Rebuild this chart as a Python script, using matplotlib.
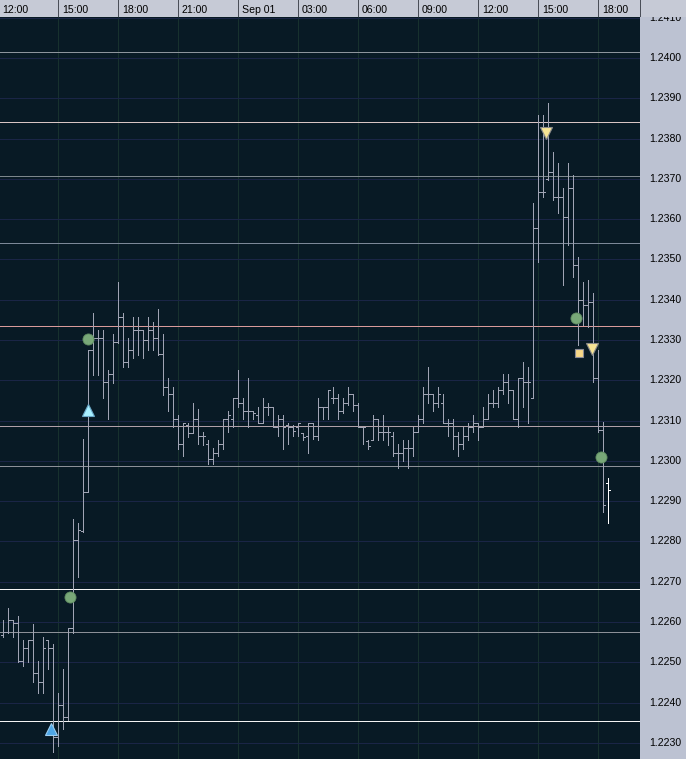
import matplotlib
matplotlib.use("Agg")
import matplotlib.pyplot as plt
from matplotlib.transforms import blended_transform_factory
import numpy as np

# ---------------- data (15-minute OHLC bars, hours after Aug 31 12:00) ----------------
bar_minutes = 15
opens = [
    1.22568, 1.22575, 1.22605, 1.22598, 1.22503, 1.22536, 1.22556, 1.22474, 1.22451, 1.22556,
    1.22536, 1.22315, 1.22394, 1.22365, 1.22585, 1.22804, 1.22826, 1.22923, 1.23275, 1.23305,
    1.23305, 1.23195, 1.23215, 1.23295, 1.23358, 1.23245, 1.23275, 1.23325, 1.23325, 1.23300,
    1.23325, 1.23305, 1.23265, 1.23183, 1.23165, 1.23105, 1.23043, 1.23088, 1.23070, 1.23105,
    1.23063, 1.23043, 1.23005, 1.23020, 1.23043, 1.23105, 1.23105, 1.23155, 1.23145, 1.23125,
    1.23125, 1.23115, 1.23095, 1.23133, 1.23133, 1.23085, 1.23105, 1.23088, 1.23083, 1.23085,
    1.23070, 1.23063, 1.23093, 1.23063, 1.23133, 1.23133, 1.23155, 1.23155, 1.23125, 1.23145,
    1.23165, 1.23138, 1.23085, 1.23050, 1.23053, 1.23105, 1.23073, 1.23073, 1.23063, 1.23020,
    1.23020, 1.23033, 1.23033, 1.23073, 1.23105, 1.23165, 1.23165, 1.23145, 1.23145, 1.23095,
    1.23095, 1.23063, 1.23043, 1.23063, 1.23085, 1.23095, 1.23085, 1.23105, 1.23145, 1.23145,
    1.23175, 1.23195, 1.23175, 1.23105, 1.23205, 1.23195, 1.23155, 1.23578, 1.23667, 1.23700,
    1.23717, 1.23655, 1.23655, 1.23605, 1.23677, 1.23486, 1.23399, 1.23387, 1.23394, 1.23206,
    1.23077, 1.22945,
]
highs = [
    1.22605, 1.22635, 1.22605, 1.22615, 1.22556, 1.22556, 1.22595, 1.22503, 1.22563, 1.22556,
    1.22546, 1.22424, 1.22484, 1.22585, 1.22856, 1.22846, 1.23054, 1.23275, 1.23368, 1.23325,
    1.23325, 1.23225, 1.23315, 1.23445, 1.23368, 1.23305, 1.23358, 1.23358, 1.23325, 1.23358,
    1.23345, 1.23378, 1.23315, 1.23205, 1.23183, 1.23115, 1.23095, 1.23095, 1.23143, 1.23130,
    1.23073, 1.23053, 1.23033, 1.23053, 1.23105, 1.23125, 1.23155, 1.23225, 1.23155, 1.23205,
    1.23125, 1.23133, 1.23155, 1.23145, 1.23133, 1.23113, 1.23115, 1.23095, 1.23088, 1.23095,
    1.23070, 1.23095, 1.23095, 1.23155, 1.23133, 1.23175, 1.23183, 1.23165, 1.23155, 1.23183,
    1.23165, 1.23145, 1.23085, 1.23053, 1.23115, 1.23105, 1.23115, 1.23085, 1.23073, 1.23043,
    1.23053, 1.23053, 1.23085, 1.23115, 1.23183, 1.23233, 1.23165, 1.23183, 1.23165, 1.23105,
    1.23105, 1.23073, 1.23085, 1.23095, 1.23115, 1.23095, 1.23133, 1.23165, 1.23175, 1.23183,
    1.23215, 1.23215, 1.23175, 1.23205, 1.23245, 1.23233, 1.23640, 1.23858, 1.23858, 1.23888,
    1.23767, 1.23739, 1.23677, 1.23739, 1.23709, 1.23506, 1.23444, 1.23449, 1.23417, 1.23275,
    1.23097, 1.22958,
]
lows = [
    1.22563, 1.22573, 1.22563, 1.22501, 1.22491, 1.22501, 1.22451, 1.22424, 1.22424, 1.22484,
    1.22278, 1.22293, 1.22335, 1.22357, 1.22573, 1.22712, 1.22824, 1.22923, 1.23213, 1.23213,
    1.23155, 1.23105, 1.23193, 1.23293, 1.23233, 1.23233, 1.23255, 1.23263, 1.23255, 1.23275,
    1.23275, 1.23263, 1.23163, 1.23125, 1.23083, 1.23030, 1.23013, 1.23060, 1.23070, 1.23043,
    1.23040, 1.22993, 1.22993, 1.23013, 1.23030, 1.23073, 1.23085, 1.23133, 1.23105, 1.23085,
    1.23105, 1.23093, 1.23095, 1.23115, 1.23083, 1.23063, 1.23030, 1.23043, 1.23063, 1.23063,
    1.23053, 1.23020, 1.23055, 1.23053, 1.23105, 1.23105, 1.23145, 1.23105, 1.23118, 1.23138,
    1.23125, 1.23085, 1.23043, 1.23030, 1.23053, 1.23053, 1.23053, 1.23040, 1.23013, 1.22983,
    1.23000, 1.22983, 1.23013, 1.23073, 1.23095, 1.23145, 1.23125, 1.23133, 1.23095, 1.23063,
    1.23030, 1.23013, 1.23030, 1.23053, 1.23073, 1.23053, 1.23085, 1.23105, 1.23133, 1.23133,
    1.23165, 1.23145, 1.23105, 1.23085, 1.23133, 1.23093, 1.23155, 1.23494, 1.23655, 1.23697,
    1.23647, 1.23615, 1.23436, 1.23536, 1.23456, 1.23288, 1.23337, 1.23332, 1.23196, 1.23072,
    1.22873, 1.22846,
]
closes = [
    1.22575, 1.22605, 1.22598, 1.22503, 1.22536, 1.22556, 1.22474, 1.22451, 1.22536, 1.22536,
    1.22315, 1.22394, 1.22365, 1.22585, 1.22804, 1.22829, 1.22923, 1.23275, 1.23305, 1.23305,
    1.23195, 1.23215, 1.23295, 1.23358, 1.23245, 1.23275, 1.23325, 1.23325, 1.23300, 1.23325,
    1.23305, 1.23265, 1.23183, 1.23165, 1.23105, 1.23043, 1.23093, 1.23070, 1.23105, 1.23063,
    1.23063, 1.23005, 1.23020, 1.23043, 1.23105, 1.23113, 1.23155, 1.23145, 1.23125, 1.23125,
    1.23118, 1.23093, 1.23133, 1.23133, 1.23085, 1.23105, 1.23083, 1.23083, 1.23075, 1.23095,
    1.23060, 1.23093, 1.23063, 1.23133, 1.23133, 1.23175, 1.23155, 1.23125, 1.23145, 1.23165,
    1.23138, 1.23085, 1.23085, 1.23038, 1.23105, 1.23073, 1.23073, 1.23073, 1.23020, 1.23020,
    1.23033, 1.23033, 1.23073, 1.23105, 1.23165, 1.23165, 1.23145, 1.23165, 1.23095, 1.23095,
    1.23063, 1.23043, 1.23063, 1.23085, 1.23095, 1.23085, 1.23105, 1.23145, 1.23145, 1.23175,
    1.23195, 1.23175, 1.23105, 1.23205, 1.23195, 1.23195, 1.23578, 1.23667, 1.23667, 1.23717,
    1.23655, 1.23655, 1.23605, 1.23677, 1.23486, 1.23399, 1.23387, 1.23394, 1.23206, 1.23077,
    1.22891, 1.22928,
]

# horizontal support / resistance levels
level_prices = [1.24015, 1.23841, 1.23707, 1.23541, 1.23335, 1.23087, 1.22987, 1.22682, 1.22575, 1.22355]
level_colors = ["#8c949c", "#d8c4c4", "#7c868c", "#7c8898", "#d89a9a",
                "#b0a0a8", "#8c9098", "#f4f4f4", "#8c9098", "#f4f4f4"]

# signal markers (hours after Aug 31 12:00, price)
buy_hours = [2.65]
buy_prices = [1.22335]
buy2_hours = [4.5]
buy2_prices = [1.23126]
exit_hours = [3.6, 4.5, 28.9, 30.15]
exit_prices = [1.22662, 1.23302, 1.23355, 1.23010]
sell_hours = [27.4, 29.7]
sell_prices = [1.23814, 1.23278]
stop_hours = [29.05]
stop_prices = [1.23268]

time_tick_hours = [0, 3, 6, 9, 12, 15, 18, 21, 24, 27, 30]
time_tick_labels = ["12:00", "15:00", "18:00", "21:00", "Sep 01", "03:00",
                    "06:00", "09:00", "12:00", "15:00", "18:00"]
price_ticks = [1.2230, 1.2240, 1.2250, 1.2260, 1.2270, 1.2280, 1.2290, 1.2300, 1.2310,
               1.2320, 1.2330, 1.2340, 1.2350, 1.2360, 1.2370, 1.2380, 1.2390, 1.2400, 1.2410]

# ---------------- figure ----------------
W, H = 686, 759
TOP = 17
PLOT_W = 640
BG = "#081a25"
LW = 0.72  # one pixel
fig = plt.figure(figsize=(W / 100, H / 100), dpi=100)
fig.patch.set_facecolor(BG)

XMIN, XMAX = 0.1, 32.1
YMIN, YMAX = 1.22260, 1.24102
font = dict(family=["Liberation Sans", "DejaVu Sans"], size=7.6, color="black")

ax = fig.add_axes([0, 0, PLOT_W / W, (H - TOP) / H])
ax.set_facecolor(BG)
ax.set_xlim(XMIN, XMAX)
ax.set_ylim(YMIN, YMAX)
for s in ax.spines.values():
    s.set_visible(False)
ax.set_xticks([])
ax.set_yticks([])

# dim grid
for h in time_tick_hours:
    ax.axvline(h, color="#17312e", lw=LW, zorder=1, antialiased=False)
for p in price_ticks:
    ax.axhline(p, color="#1a2546", lw=LW, zorder=1, antialiased=False)

# levels
for p, c in zip(level_prices, level_colors):
    ax.axhline(p, color=c, lw=LW, zorder=2, antialiased=False)

# OHLC bars
n = len(opens)
t = (np.arange(n) + 1) * bar_minutes / 60.0
bar_cols = ["#a0a4b4"] * (n - 1) + ["#ffffff"]
tick = 0.1
ax.vlines(t, lows, highs, colors=bar_cols, lw=LW, zorder=3, antialiased=False)
ax.hlines(opens, t - tick, t, colors=bar_cols, lw=LW, zorder=3, antialiased=False)
ax.hlines(closes, t, t + tick, colors=bar_cols, lw=LW, zorder=3, antialiased=False)

# signals
ax.plot(buy_hours, buy_prices, "^", ms=8, mfc="#4ea6e6", mec="#9ccdf0", mew=0.8, zorder=5)
ax.plot(buy2_hours, buy2_prices, "^", ms=8, mfc="#a8f0ff", mec="#6aa8c8", mew=0.8, zorder=5)
ax.plot(exit_hours, exit_prices, "o", ms=8, mfc="#78a878", mec="#5e8a60", mew=0.6, zorder=5)
ax.plot(sell_hours, sell_prices, "v", ms=8, mfc="#f6e494", mec="#8a8a8a", mew=0.8, zorder=5)
ax.plot(stop_hours, stop_prices, "s", ms=6, mfc="#f8d888", mec="#8a8a96", mew=0.8, zorder=5)

# ---------------- top time strip ----------------
axt = fig.add_axes([0, (H - TOP) / H, 1, TOP / H])
axt.set_facecolor("#c6cad6")
axt.set_xlim(XMIN, XMIN + W / 20.0)
axt.set_ylim(0, 1)
for s in axt.spines.values():
    s.set_visible(False)
axt.set_xticks([])
axt.set_yticks([])
for h, lab in zip(time_tick_hours, time_tick_labels):
    axt.axvline(h, color="#4a4e58", lw=LW, antialiased=False)
    axt.text(h + 0.2, 0.42, lab, ha="left", va="center", **font)
axt.axvline(XMAX, color="#4a4e58", lw=LW, antialiased=False)

# ---------------- right price strip ----------------
axr = fig.add_axes([PLOT_W / W, 0, (W - PLOT_W) / W, (H - TOP) / H])
axr.set_facecolor("#bcc2d2")
axr.set_ylim(YMIN, YMAX)
axr.set_xlim(0, 1)
for s in axr.spines.values():
    s.set_visible(False)
axr.set_xticks([])
axr.set_yticks([])
tr = blended_transform_factory(axr.transAxes, axr.transData)
for p in price_ticks:
    axr.text(0.9, p, f"{p:.4f}", ha="right", va="center", transform=tr, clip_on=True, **font)

fig.savefig("out.png", dpi=100, facecolor=fig.get_facecolor())
